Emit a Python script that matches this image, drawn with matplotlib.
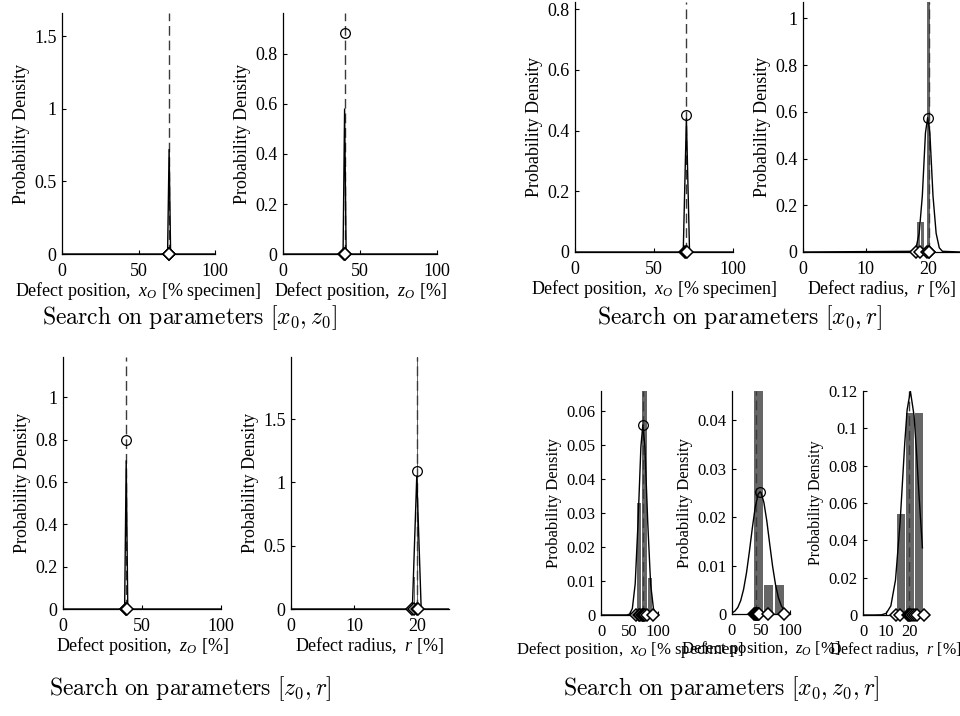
import matplotlib
matplotlib.use('Agg')
import matplotlib.pyplot as plt

plt.rcParams['font.family'] = ['Liberation Serif', 'DejaVu Serif']
plt.rcParams['mathtext.fontset'] = 'custom'
plt.rcParams['mathtext.rm'] = 'Liberation Serif'
plt.rcParams['mathtext.it'] = 'Liberation Serif:italic'
plt.rcParams['mathtext.bf'] = 'Liberation Serif:bold'

W, H = 960, 716

# ---------------- data ----------------
# Search on [x0, z0]
p1_curve_x = [0, 69, 70, 71, 100]
p1_curve_y = [0, 0, 0.72, 0, 0]
p1_bar_x = [70]
p1_bar_h = [2.0]
p1_samples = [69.7, 70.0, 70.2]
p1_peak = None
p1_true = 70

p2_curve_x = [0, 39, 40, 41, 100]
p2_curve_y = [0, 0, 0.58, 0, 0]
p2_bar_x = [40.2]
p2_bar_h = [1.0]
p2_samples = [39.8, 40.1, 40.4]
p2_peak = (40.4, 0.885)
p2_true = 40

# Search on [x0, r]
p3_curve_x = [0, 68.5, 70.5, 72.5, 100]
p3_curve_y = [0, 0, 0.44, 0, 0]
p3_bar_x = [70.3]
p3_bar_h = [1.0]
p3_samples = [69.8, 70.3, 71.2]
p3_peak = (70.5, 0.45)
p3_true = 70

p4_curve_x = [0, 17.5, 18.0, 18.5, 19.0, 19.5, 19.85, 20.2, 20.7, 21.2, 21.7, 22.2, 25]
p4_curve_y = [0, 0.003, 0.018, 0.08, 0.24, 0.51, 0.575, 0.51, 0.24, 0.08, 0.018, 0.003, 0]
p4_bar_x = [18.4, 19.05, 20.0]
p4_bar_h = [0.13, 0.13, 1.2]
p4_samples = [18.0, 18.7, 19.8, 20.0, 20.1]
p4_peak = (19.85, 0.575)
p4_true = 20

# Search on [z0, r]
p5_curve_x = [0, 39, 40, 41, 100]
p5_curve_y = [0, 0, 0.70, 0, 0]
p5_bar_x = []
p5_bar_h = []
p5_samples = [39.6, 40.0, 40.3]
p5_peak = (39.8, 0.80)
p5_true = 40

p6_curve_x = [0, 19.2, 19.9, 20.6, 25]
p6_curve_y = [0, 0, 1.05, 0, 0]
p6_bar_x = [19.5, 20.0]
p6_bar_h = [0.25, 2.2]
p6_samples = [19.1, 19.5, 19.9, 20.1]
p6_peak = (19.9, 1.09)
p6_true = 20

# Search on [x0, z0, r]
p7_curve_x = [0, 45, 50, 55, 60, 65, 70, 73.4, 77, 82, 87, 92, 97, 100]
p7_curve_y = [0, 0.00002, 0.00023, 0.0019, 0.0092, 0.0273, 0.0496, 0.056,
              0.0496, 0.0273, 0.0092, 0.0019, 0.00023, 0.00005]
p7_bar_x = [66.8, 76.5, 86.2]
p7_bar_h = [0.033, 0.07, 0.011]
p7_samples = [62, 66, 69, 72, 73, 74, 76, 78, 80, 91]
p7_peak = (73.4, 0.056)
p7_true = 74.5

p8_curve_x = [0, 5, 10, 15, 20, 25, 30, 35, 40, 45, 48.3, 50, 55, 60, 65,
              70, 75, 80, 85, 90, 95, 100]
p8_curve_y = [0.00024, 0.0006, 0.00135, 0.00276, 0.0051, 0.0085, 0.0129,
              0.0177, 0.0220, 0.0247, 0.0252, 0.02505, 0.0230, 0.0192,
              0.01444, 0.00984, 0.00607, 0.00339, 0.00171, 0.00078,
              0.00032, 0.00012]
p8_bar_x = [45.4, 63.2, 81.3]
p8_bar_h = [0.05, 0.006, 0.006]
p8_samples = [38, 39.5, 41, 42, 43, 44, 45, 46.5, 62.5, 89.5]
p8_peak = (48.3, 0.0252)
p8_true = 41

p9_curve_x = [0, 5, 8, 10, 12, 14, 16, 18, 19, 20.4, 22, 23, 24, 25.6]
p9_curve_y = [0, 0, 0.00011, 0.00089, 0.0049, 0.0187, 0.0499, 0.0924,
              0.1098, 0.12, 0.1068, 0.0883, 0.0667, 0.036]
p9_bar_x = [16.4, 20.25, 24.15]
p9_bar_h = [0.054, 0.108, 0.108]
p9_samples = [14.2, 16.0, 19.3, 19.8, 20.3, 20.8, 21.6, 22.5, 23.3, 26.3]
p9_peak = None
p9_true = 20

pos_ticks = [0, 50, 100]
rad_ticks = [0, 10, 20]

p1_yticks = [0, 0.5, 1, 1.5];             p1_ylabels = ['0', '0.5', '1', '1.5']
p2_yticks = [0, 0.2, 0.4, 0.6, 0.8];      p2_ylabels = ['0', '0.2', '0.4', '0.6', '0.8']
p3_yticks = [0, 0.2, 0.4, 0.6, 0.8];      p3_ylabels = ['0', '0.2', '0.4', '0.6', '0.8']
p4_yticks = [0, 0.2, 0.4, 0.6, 0.8, 1];   p4_ylabels = ['0', '0.2', '0.4', '0.6', '0.8', '1']
p5_yticks = [0, 0.2, 0.4, 0.6, 0.8, 1];   p5_ylabels = ['0', '0.2', '0.4', '0.6', '0.8', '1']
p6_yticks = [0, 0.5, 1, 1.5];             p6_ylabels = ['0', '0.5', '1', '1.5']
p7_yticks = [0, 0.01, 0.02, 0.03, 0.04, 0.05, 0.06]
p7_ylabels = ['0', '0.01', '0.02', '0.03', '0.04', '0.05', '0.06']
p8_yticks = [0, 0.01, 0.02, 0.03, 0.04]
p8_ylabels = ['0', '0.01', '0.02', '0.03', '0.04']
p9_yticks = [0, 0.02, 0.04, 0.06, 0.08, 0.1, 0.12]
p9_ylabels = ['0', '0.02', '0.04', '0.06', '0.08', '0.1', '0.12']

xlab_x = 'Defect position,  $x_O$ [% specimen]'
xlab_z = 'Defect position,  $z_O$ [%]'
xlab_r = 'Defect radius,  $r$ [%]'
ylab = 'Probability Density'

titles = [r'$\mathrm{Search\ on\ parameters}\ [x_0, z_0]$',
          r'$\mathrm{Search\ on\ parameters}\ [x_0, r]$',
          r'$\mathrm{Search\ on\ parameters}\ [z_0, r]$',
          r'$\mathrm{Search\ on\ parameters}\ [x_0, z_0, r]$']

# ---------------- layout / style ----------------
fig = plt.figure(figsize=(W / 100, H / 100), dpi=100)

BAR_COLOR = '#666666'


def add_ax(l, r, t, b):
    return fig.add_axes([l / W, 1 - b / H, (r - l) / W, (b - t) / H])


def panel(rect, cx, cy, bx, bh, bw, samples, peak, true, xlim, ylim,
          xticks, yticks, ylabels, xlabel, fs=13, lfs=13):
    ax = add_ax(*rect)
    if bx:
        ax.bar(bx, bh, width=bw, color=BAR_COLOR, edgecolor='none', zorder=1)
    ax.axvline(true, color='#3a3a3a', ls=(0, (7, 3.5)), lw=1.0, zorder=2)
    ax.plot(cx, cy, color='k', lw=1.0, zorder=3)
    if peak is not None:
        ax.plot([peak[0]], [peak[1]], 'o', mfc='none', mec='k', ms=7,
                mew=0.9, zorder=4)
    ax.plot(samples, [0] * len(samples), 'D', mfc='white', mec='k', ms=6.5,
            mew=1.1, clip_on=False, zorder=5)
    ax.set_xlim(*xlim)
    ax.set_ylim(*ylim)
    ax.set_xticks(xticks)
    ax.set_xticklabels([str(t) for t in xticks])
    ax.set_yticks(yticks)
    ax.set_yticklabels(ylabels)
    for s in ('top', 'right'):
        ax.spines[s].set_visible(False)
    for s in ('left', 'bottom'):
        ax.spines[s].set_linewidth(0.9)
    ax.tick_params(direction='in', length=3, width=0.8, labelsize=fs,
                   pad=4, top=False, right=False)
    ax.tick_params(axis='x', pad=6.5)
    ax.set_xlabel(xlabel, fontsize=lfs, labelpad=0)
    ax.set_ylabel(ylab, fontsize=lfs, labelpad=3)
    ax.patch.set_alpha(0)
    return ax


panel((62, 215, 13, 254), p1_curve_x, p1_curve_y, p1_bar_x, p1_bar_h, 0.5,
      p1_samples, p1_peak, p1_true, (0, 100), (0, 1.66),
      pos_ticks, p1_yticks, p1_ylabels, xlab_x)
panel((283, 437, 13, 254), p2_curve_x, p2_curve_y, p2_bar_x, p2_bar_h, 0.5,
      p2_samples, p2_peak, p2_true, (0, 100), (0, 0.964),
      pos_ticks, p2_yticks, p2_ylabels, xlab_z)
panel((575, 733, 2, 252), p3_curve_x, p3_curve_y, p3_bar_x, p3_bar_h, 0.5,
      p3_samples, p3_peak, p3_true, (0, 100), (0, 0.824),
      pos_ticks, p3_yticks, p3_ylabels, xlab_x)
panel((803, 960, 2, 252), p4_curve_x, p4_curve_y, p4_bar_x, p4_bar_h, 0.55,
      p4_samples, p4_peak, p4_true, (0, 25), (0, 1.07),
      rad_ticks, p4_yticks, p4_ylabels, xlab_r)
panel((63, 221, 357, 609), p5_curve_x, p5_curve_y, p5_bar_x, p5_bar_h, 0.4,
      p5_samples, p5_peak, p5_true, (0, 100), (0, 1.19),
      pos_ticks, p5_yticks, p5_ylabels, xlab_z)
panel((291, 449, 357, 609), p6_curve_x, p6_curve_y, p6_bar_x, p6_bar_h, 0.2,
      p6_samples, p6_peak, p6_true, (0, 25), (0, 1.99),
      rad_ticks, p6_yticks, p6_ylabels, xlab_r)
panel((601, 658, 391, 615), p7_curve_x, p7_curve_y, p7_bar_x, p7_bar_h, 7.4,
      p7_samples, p7_peak, p7_true, (0, 100), (0, 0.066),
      pos_ticks, p7_yticks, p7_ylabels, xlab_x, fs=12, lfs=12)
panel((732, 790, 391, 614), p8_curve_x, p8_curve_y, p8_bar_x, p8_bar_h, 16,
      p8_samples, p8_peak, p8_true, (0, 100), (0, 0.046),
      pos_ticks, p8_yticks, p8_ylabels, xlab_z, fs=12, lfs=12)
panel((863, 928, 391, 615), p9_curve_x, p9_curve_y, p9_bar_x, p9_bar_h, 3.2,
      p9_samples, p9_peak, p9_true, (0, 28), (0, 0.12),
      rad_ticks, p9_yticks, p9_ylabels, xlab_r, fs=12, lfs=11.5)

title_pos = [(190, 318), (740, 318), (190, 689), (721, 689)]
for (tx, ty), t in zip(title_pos, titles):
    fig.text(tx / W, 1 - ty / H, t, ha='center', va='center', fontsize=17,
             math_fontfamily='cm')

fig.savefig('out.png', dpi=100)
